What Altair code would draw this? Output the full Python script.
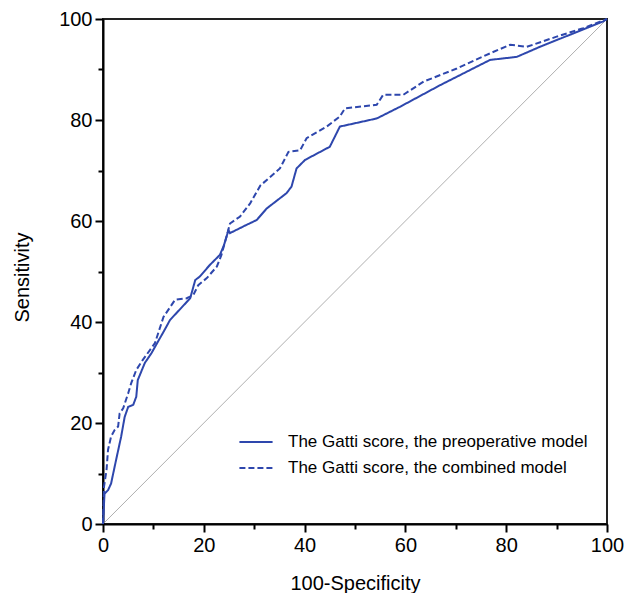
import altair as alt
import pandas as pd

series_names = [
    "The Gatti score, the preoperative model",
    "The Gatti score, the combined model",
]

pre_x = [0, 0.3, 1.0, 1.6, 2.6, 3.6, 4.3, 5.0, 6.0, 6.6, 6.9, 8.3, 9.6, 12.2, 13.3, 17.3, 18.3, 19.2,
         21.2, 23.2, 24.0, 24.9, 25.2, 27.8, 30.5, 32.5, 36.4, 37.4, 38.4, 40.1, 45.0, 47.0, 54.3,
         58.9, 66.9, 76.8, 82.1, 86.7, 99.2, 100]
pre_y = [0, 6.0, 6.7, 8.0, 12.7, 17.3, 21.2, 23.2, 23.6, 25.2, 28.5, 31.9, 33.8, 38.4, 40.4, 44.7, 48.3, 49.0,
         51.3, 53.3, 55.2, 58.2, 57.6, 58.9, 60.2, 62.5, 65.5, 66.8, 70.4, 72.1, 74.7, 78.7, 80.3,
         82.6, 86.9, 91.9, 92.5, 94.5, 99.5, 100]

com_x = [0, 0.2, 0.7, 1.0, 1.6, 2.3, 3.0, 3.3, 4.0, 5.0, 5.6, 6.6, 7.9, 10.3, 12.0, 14.3, 16.6, 17.9,
         18.9, 20.6, 22.6, 23.5, 24.5, 25.2, 27.2, 29.2, 31.2, 35.1, 36.8, 39.1, 40.4, 44.4, 47.0,
         48.0, 54.3, 55.6, 59.6, 63.6, 70.2, 76.8, 80.8, 84.1, 90.0, 95.3, 100]
com_y = [0, 7.4, 10.7, 14.7, 17.3, 18.6, 19.3, 21.9, 22.9, 25.9, 27.9, 30.5, 32.5, 35.8, 41.0, 44.4, 44.7, 45.3,
         47.3, 48.7, 51.0, 53.3, 56.9, 59.5, 60.9, 63.5, 67.0, 70.4, 73.7, 74.0, 76.4, 78.7, 80.7,
         82.3, 83.0, 85.0, 85.0, 87.6, 90.2, 93.2, 94.9, 94.5, 96.5, 98.2, 100]

diag_x = [0, 100]
diag_y = [0, 100]

rows = []
for i, (x, y) in enumerate(zip(pre_x, pre_y)):
    rows.append({"fpr": x, "tpr": y, "model": series_names[0], "idx": i})
for i, (x, y) in enumerate(zip(com_x, com_y)):
    rows.append({"fpr": x, "tpr": y, "model": series_names[1], "idx": i})
df = pd.DataFrame(rows)
diag = pd.DataFrame({"fpr": diag_x, "tpr": diag_y})

FONT = "Liberation Sans"
BLUE = "#2e47ad"

major = "datum.value % 20 === 0"
tick_size = {"condition": {"test": major, "value": 8}, "value": 5}
label_expr = "datum.value % 20 === 0 ? datum.label : ''"

x_axis = alt.Axis(
    values=list(range(0, 101, 10)), tickSize=tick_size, labelExpr=label_expr,
    title="100-Specificity", titleX=252, titleY=59, titleBaseline="middle",
    labelPadding=3, labelFlush=False,
)
y_axis = alt.Axis(
    values=list(range(0, 101, 10)), tickSize=tick_size, labelExpr=label_expr,
    title="Sensitivity", titleX=-81, titleY=258, titleBaseline="middle",
    labelPadding=3, labelFlush=False,
)

xs = alt.Scale(domain=[0, 100], nice=False, zero=False)
ys = alt.Scale(domain=[0, 100], nice=False, zero=False)

diag_layer = alt.Chart(diag).mark_line(color="#9a9a9a", strokeWidth=0.8).encode(
    x=alt.X("fpr:Q", scale=xs, axis=x_axis),
    y=alt.Y("tpr:Q", scale=ys, axis=y_axis),
)

curves = alt.Chart(df).mark_line(strokeWidth=2).encode(
    x=alt.X("fpr:Q", scale=xs, axis=x_axis),
    y=alt.Y("tpr:Q", scale=ys, axis=y_axis),
    color=alt.Color("model:N", scale=alt.Scale(domain=series_names, range=[BLUE, BLUE]),
                    legend=alt.Legend(title=None)),
    strokeDash=alt.StrokeDash("model:N", scale=alt.Scale(domain=series_names, range=[[1, 0], [6, 3]]),
                              legend=alt.Legend(title=None)),
    order="idx:Q",
)

chart = (
    alt.layer(diag_layer, curves)
    .properties(
        width=504, height=505,
        autosize=alt.AutoSizeParams(type="none"),
        padding={"left": 95, "top": 11, "right": 17, "bottom": 69},
    )
    .configure_view(stroke="#222222", strokeWidth=2)
    .configure_axis(
        grid=False, domainColor="black", domainWidth=2, tickColor="black", tickWidth=2,
        labelFont=FONT, labelFontSize=20, labelColor="black",
        titleFont=FONT, titleFontSize=20, titleFontWeight="normal", titleColor="black",
    )
    .configure_legend(
        orient="none", legendX=135, legendY=405,
        symbolType="stroke", symbolSize=1100, symbolStrokeWidth=2,
        labelFont=FONT, labelFontSize=17, labelColor="black", labelOffset=14,
        rowPadding=-10, labelLimit=400,
    )
)

chart.save("out.html", embed_options={"renderer": "svg", "actions": False})
